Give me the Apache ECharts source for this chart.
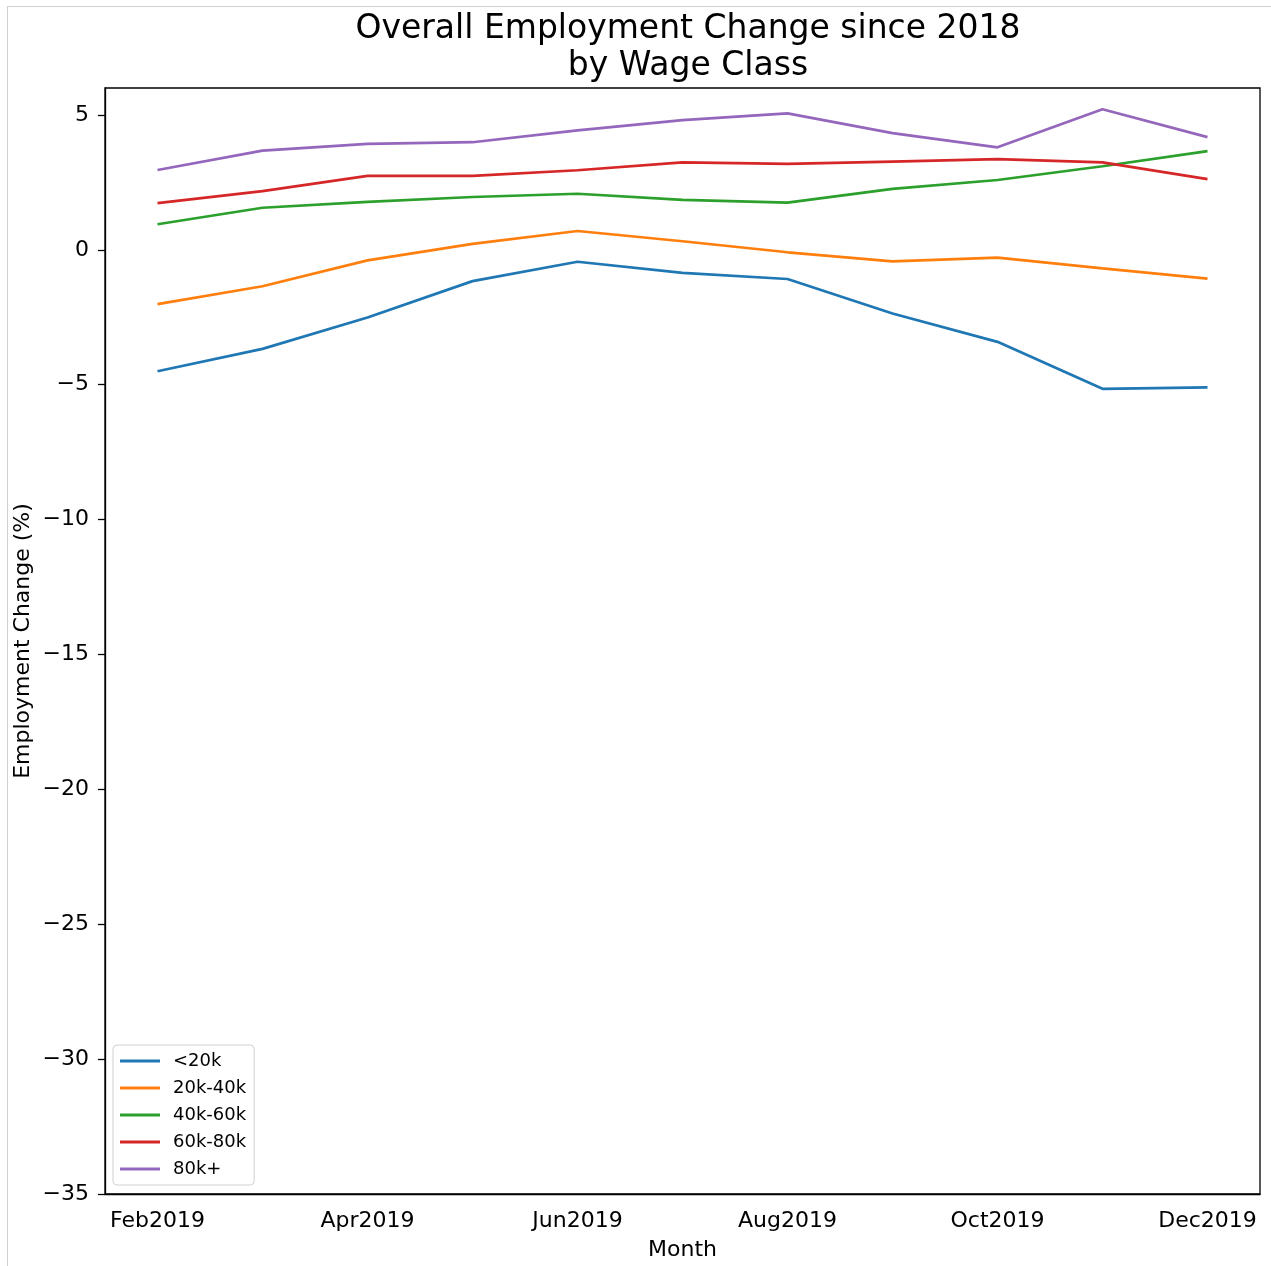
<!DOCTYPE html>
<html>
<head>
<meta charset="utf-8">
<title>Overall Employment Change since 2018</title>
<script src="https://cdn.jsdelivr.net/npm/echarts@6/dist/echarts.min.js"></script>
<style>
  html, body { margin: 0; padding: 0; background: #fff; }
  #chart { width: 1271px; height: 1266px; }
  .frame {
    position: absolute; left: 7px; top: 6px; width: 1264px; height: 1260px;
    border-left: 1px solid #d0d0d0; border-top: 1px solid #d0d0d0;
    pointer-events: none;
  }
</style>
</head>
<body>
<div id="chart"></div>
<div class="frame"></div>
<script>
const months = ['Feb2019', 'Mar2019', 'Apr2019', 'May2019', 'Jun2019', 'Jul2019',
  'Aug2019', 'Sep2019', 'Oct2019', 'Nov2019', 'Dec2019']

const wageClasses = ['<20k', '20k-40k', '40k-60k', '60k-80k', '80k+']
const under20k = [-4.50, -3.67, -2.51, -1.16, -0.44, -0.85, -1.08, -2.36, -3.41, -5.15, -5.10]
const from20to40k = [-2.01, -1.35, -0.39, 0.22, 0.70, 0.32, -0.09, -0.43, -0.29, -0.69, -1.07]
const from40to60k = [0.95, 1.56, 1.78, 1.96, 2.08, 1.85, 1.75, 2.26, 2.59, 3.10, 3.66]
const from60to80k = [1.73, 2.18, 2.74, 2.74, 2.95, 3.24, 3.19, 3.27, 3.36, 3.24, 2.62]
const over80k = [2.96, 3.68, 3.93, 3.99, 4.43, 4.81, 5.06, 4.33, 3.80, 5.21, 4.18]

const yTicks = [-35, -30, -25, -20, -15, -10, -5, 0, 5]

const colors = ['#1f77b4', '#ff7f0e', '#2ca02c', '#d62728', '#9467bd']
const font = 'DejaVu Sans'

const chart = echarts.init(document.getElementById('chart'))

const seriesValues = [under20k, from20to40k, from40to60k, from60to80k, over80k]
const series = wageClasses.map((name, i) => ({
  name,
  type: 'line',
  data: seriesValues[i],
  symbol: 'none',
  lineStyle: { width: 2.7, color: colors[i] },
  itemStyle: { color: colors[i] }
}))

chart.setOption({
  animation: false,
  title: {
    text: 'Overall Employment Change since 2018\nby Wage Class',
    left: 683,
    textAlign: 'center',
    top: 6,
    textStyle: {
      fontFamily: font,
      fontSize: 33,
      fontWeight: 'normal',
      color: '#000',
      lineHeight: 37
    }
  },
  legend: {
    orient: 'vertical',
    left: 113,
    top: 1045,
    padding: [7, 8, 7, 7],
    icon: 'rect',
    itemWidth: 40,
    itemHeight: 3,
    itemGap: 9,
    backgroundColor: '#fff',
    borderColor: '#d0d0d0',
    borderWidth: 1,
    borderRadius: 4,
    textStyle: { fontFamily: font, fontSize: 18, color: '#000', padding: [0, 0, 0, 8] },
    data: wageClasses
  },
  grid: {
    left: 105,
    right: 11,
    top: 88,
    bottom: 72,
    show: true,
    borderColor: '#000',
    borderWidth: 1.3,
    containLabel: false
  },
  xAxis: {
    type: 'category',
    data: months,
    boundaryGap: true,
    name: 'Month',
    nameLocation: 'middle',
    nameGap: 45,
    nameMoveOverlap: false,
    nameTextStyle: { fontFamily: font, fontSize: 22, color: '#000' },
    axisLine: { onZero: false, lineStyle: { color: '#000', width: 1.3 } },
    axisTick: { alignWithLabel: true, interval: 1, length: 7, lineStyle: { color: '#000', width: 1.3 } },
    axisLabel: { interval: 1, margin: 16, fontFamily: font, fontSize: 22, color: '#000' },
    splitLine: { show: false }
  },
  yAxis: {
    type: 'value',
    min: -35,
    max: 6,
    name: 'Employment Change (%)',
    nameLocation: 'middle',
    nameGap: 71,
    nameMoveOverlap: false,
    nameTextStyle: { fontFamily: font, fontSize: 22, color: '#000' },
    axisLine: { show: true, onZero: false, lineStyle: { color: '#000', width: 1.3 } },
    axisTick: { show: true, length: 7, customValues: yTicks, lineStyle: { color: '#000', width: 1.3 } },
    axisLabel: {
      customValues: yTicks,
      margin: 16,
      fontFamily: font,
      fontSize: 22,
      color: '#000',
      formatter: v => String(v).replace('-', '\u2212')
    },
    splitLine: { show: false }
  },
  series
})
</script>
</body>
</html>
